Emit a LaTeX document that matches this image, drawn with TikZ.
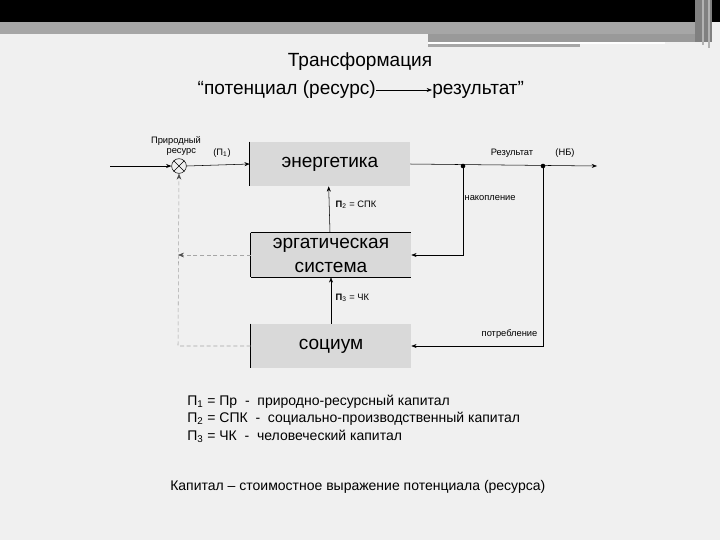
\documentclass[tikz,border=0pt]{standalone}
\usepackage{fontspec}
\setmainfont{Liberation Sans}
\usetikzlibrary{arrows.meta}
\begin{document}
\begin{tikzpicture}[x=0.75pt,y=-0.75pt,
  blk/.style={draw=none,fill=black!15,minimum width=120pt,minimum height=33pt,inner sep=0pt,font=\fontsize{14.3}{15}\selectfont,align=center},
  sm/.style={font=\fontsize{7}{8}\selectfont,inner sep=1pt},
  lg/.style={font=\fontsize{10.5}{12}\selectfont,anchor=west,inner sep=0pt},
  ar/.style={-{Stealth[length=4pt,width=3pt]}},
  dsh/.style={draw=black!35,densely dashed,-{Stealth[length=4.5pt,width=3.5pt,color=black!70,fill=black!70,line width=0.4pt]}}]
\fill[black!6] (0,0) rectangle (720,540);
\useasboundingbox (0,0) rectangle (720,540);
\fill[black] (0,0) rectangle (720,22);
\fill[black!35] (0,22) rectangle (700,34);
\fill[black!40] (428,34) rectangle (700,42);
\fill[white] (428,42) rectangle (665,44);
\fill[black!35] (428,44) rectangle (580,47);
\fill[black!50] (695,0) rectangle (712,42);
\draw[black!30,line width=1pt] (703,0) -- (703,45);
\draw[black!30,line width=1pt] (709,0) -- (709,48);
% title
\node[font=\fontsize{14.3}{15}\selectfont] (t1) at (360,62) {Трансформация};
\node[font=\fontsize{14.3}{15}\selectfont,anchor=east,inner sep=0pt] (t2) at (376,90) {“потенциал (ресурс)};
\node[font=\fontsize{14.3}{15}\selectfont,anchor=west,inner sep=0pt] (t3) at (432,90) {результат”};
\draw[ar] (t2.east) -- (t3.west);
% blocks
\node[blk,minimum width=120pt] (en) at (330,164) {энергетика};
\node[blk,font=\fontsize{14.3}{18}\selectfont] (er) at (331,255) {эргатическая\\система};
\draw (er.north west) -- (er.north east) (er.south west) -- (er.south east) (er.north west) -- (er.south west);
\node[blk] (so) at (331,346) {социум};
\draw (en.north west) -- (en.south west);
\draw (so.north west) -- (so.south west);
% circle
\node[draw,circle,minimum size=11pt,inner sep=0pt,fill=black!6] (c) at (179,166) {};
\draw (c.north west) -- (c.south east) (c.north east) -- (c.south west);
\coordinate (in) at (110,166);
\coordinate (out) at (597,166);
\coordinate (d1) at (463,166);
\coordinate (d2) at (543,166);
\fill (d1) circle (2.3);
\fill (d2) circle (2.3);
\draw[ar] (in) -- (c.west);
\draw[ar] (c.east) -- (en.west);
\draw[ar] (en.east) -- (out);
\draw[ar] (d1) |- (er.east);
\draw[ar] (d2) |- (so.east);
\draw[ar] (er.north) ++(-1,0) -- ([xshift=-1]en.south);
\draw[ar] (so.north) -- (er.south);
\coordinate (k1) at (178,255);
\coordinate (k2) at (178,346);
\draw[dsh] (er.west) -- (k1);
\draw[dsh] (so.west) -- (k2) -- (c.south);
% labels
\node[sm,align=center] (pr) at (176,146) {Природный\\\hspace*{8pt}ресурс};
\node[sm] (p1) at (222,153) {(П\textsubscript{1})};
\node[sm] (rz) at (512,153) {Результат};
\node[sm] (nb) at (565,153) {(НБ)};
\node[sm,anchor=west] (nk) at (463,198) {накопление};
\node[sm,anchor=east] (pt) at (539,334) {потребление};
\node[sm,anchor=west] (l2) at (334,205) {\textbf{П}\textsubscript{2} = СПК};
\node[sm,anchor=west] (l3) at (334,298) {\textbf{П}\textsubscript{3} = ЧК};
% legend
\node[lg] (g1) at (187,402) {П\textsubscript{1} = Пр \ - \ природно-ресурсный капитал};
\node[lg] (g2) at (187,419) {П\textsubscript{2} = СПК \ - \ социально-производственный капитал};
\node[lg] (g3) at (187,436) {П\textsubscript{3} = ЧК \ - \ человеческий капитал};
\node[lg] (g4) at (170,487) {Капитал – стоимостное выражение потенциала (ресурса)};
\end{tikzpicture}
\end{document}
